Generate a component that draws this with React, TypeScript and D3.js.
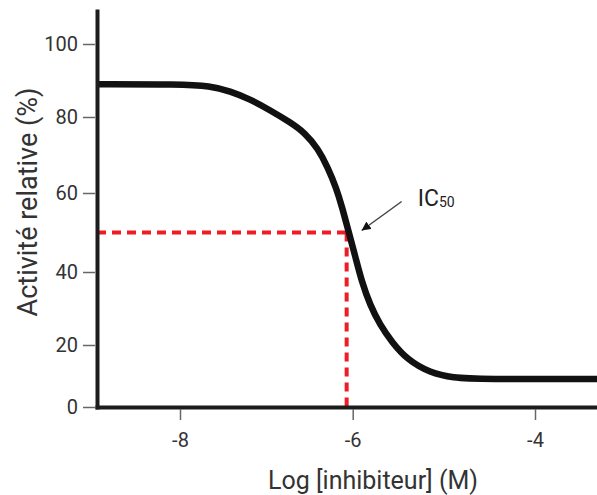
import React, { useRef, useEffect } from 'react';
import * as d3 from 'd3';

// points
const logConc = [-8.95, -8, -7.65, -7.42, -7.19, -6.96, -6.73, -6.55, -6.4, -6.29, -6.19, -6.12, -6.05, -5.97, -5.9, -5.81, -5.7, -5.57, -5.4, -5.15, -4.9, -4.6, -3.3];
const activity = [89, 89, 88.5, 87.1, 84.9, 81.9, 78.7, 75.8, 71.6, 66.8, 61.3, 56.2, 50.4, 43.8, 37.3, 31, 25.5, 20.8, 15.2, 11, 9.4, 9, 9];

const ic50Log = -6.07;
const ic50Value = 50;

const xTicks = [-8, -6, -4];
const yTicks = [0, 20, 40, 60, 80, 100];

const xTitle = 'Log [inhibiteur] (M)';
const yTitle = 'Activité relative (%)';

const W = 597;
const H = 495;

const App: React.FC = () => {
  const svgRef = useRef<SVGSVGElement>(null);

  useEffect(() => {
    if (!svgRef.current) return;
    const svg = d3.select(svgRef.current);
    svg.selectAll('*').remove();

    // the drawing is not evenly spaced, so the scales follow its ticks
    const x = d3.scaleLinear()
      .domain([-8.95, -8, -6, -4, -3.3])
      .range([97, 180, 352.7, 535, 597]);

    const y = d3.scaleLinear()
      .domain([0, 20, 40, 60, 80, 100, 109])
      .range([407, 345, 272, 193, 117, 44, 11]);

    const font = 'Roboto, "Noto Sans", sans-serif';
    const pts = logConc.map((c, i) => [c, activity[i]] as [number, number]);

    const px = x(ic50Log);
    const py = y(ic50Value);

    // lignes pointillées IC50
    svg.append('line')
      .attr('x1', x(-8.95)).attr('x2', px)
      .attr('y1', py).attr('y2', py)
      .attr('stroke', '#ee1c24')
      .attr('stroke-width', 4)
      .attr('stroke-dasharray', '9,6');

    svg.append('line')
      .attr('x1', px).attr('x2', px)
      .attr('y1', py).attr('y2', y(0))
      .attr('stroke', '#ee1c24')
      .attr('stroke-width', 4)
      .attr('stroke-dasharray', '9,6');

    // courbe
    svg.append('path')
      .datum(pts)
      .attr('fill', 'none')
      .attr('stroke', '#111')
      .attr('stroke-width', 6.5)
      .attr('d', d3.line<[number, number]>()
        .x(d => x(d[0]))
        .y(d => y(d[1]))
        .curve(d3.curveBasis));

    // axes
    const gx = svg.append('g')
      .attr('transform', `translate(0,${y(0)})`)
      .call(d3.axisBottom(x).tickValues(xTicks).tickSize(13).tickSizeOuter(0).tickFormat(d => String(d)));

    const gy = svg.append('g')
      .attr('transform', `translate(${x(-8.95)},0)`)
      .call(d3.axisLeft(y).tickValues(yTicks).tickSize(14).tickPadding(5).tickSizeOuter(0));

    [gx, gy].forEach(g => {
      g.select('.domain')
        .attr('stroke', '#1c1c1c')
        .attr('stroke-width', 4)
        .attr('stroke-linecap', 'square');
      g.selectAll('.tick line')
        .attr('stroke', '#666')
        .attr('stroke-width', 1.5);
      g.selectAll('.tick text')
        .attr('fill', '#333')
        .style('font-family', font)
        .style('font-size', '20px');
    });

    gx.selectAll('.tick line').attr('y1', 2);
    gx.selectAll('.tick text').attr('y', 40).attr('dy', 0);
    gy.selectAll('.tick line').attr('x1', -2);

    // titres
    svg.append('text')
      .attr('x', 373)
      .attr('y', 489)
      .attr('text-anchor', 'middle')
      .attr('fill', '#333')
      .style('font-family', font)
      .style('font-size', '25px')
      .text(xTitle);

    svg.append('text')
      .attr('transform', 'translate(37,202) rotate(-90)')
      .attr('text-anchor', 'middle')
      .attr('fill', '#333')
      .style('font-family', font)
      .style('font-size', '27px')
      .text(yTitle);

    // annotation IC50
    svg.append('defs').append('marker')
      .attr('id', 'arrow')
      .attr('viewBox', '0 0 10 10')
      .attr('refX', 10)
      .attr('refY', 5)
      .attr('markerWidth', 9)
      .attr('markerHeight', 9)
      .attr('markerUnits', 'userSpaceOnUse')
      .attr('orient', 'auto')
      .append('path')
      .attr('d', 'M0,0L10,5L0,10Z')
      .attr('fill', '#111');

    svg.append('line')
      .attr('x1', px + 55).attr('y1', py - 31)
      .attr('x2', px + 15).attr('y2', py - 2)
      .attr('stroke', '#444')
      .attr('stroke-width', 1.5)
      .attr('marker-end', 'url(#arrow)');

    const label = svg.append('text')
      .attr('x', px + 71)
      .attr('y', py - 27)
      .attr('fill', '#222')
      .style('font-family', font)
      .style('font-size', '23px');
    label.append('tspan').text('IC');
    label.append('tspan').attr('dy', 1.5).style('font-size', '14px').text('50');
  }, []);

  return (
    <svg
      ref={svgRef}
      width={W}
      height={H}
      style={{ position: 'absolute', left: 0, top: 0, background: '#fff' }}
    />
  );
};

export default App;
